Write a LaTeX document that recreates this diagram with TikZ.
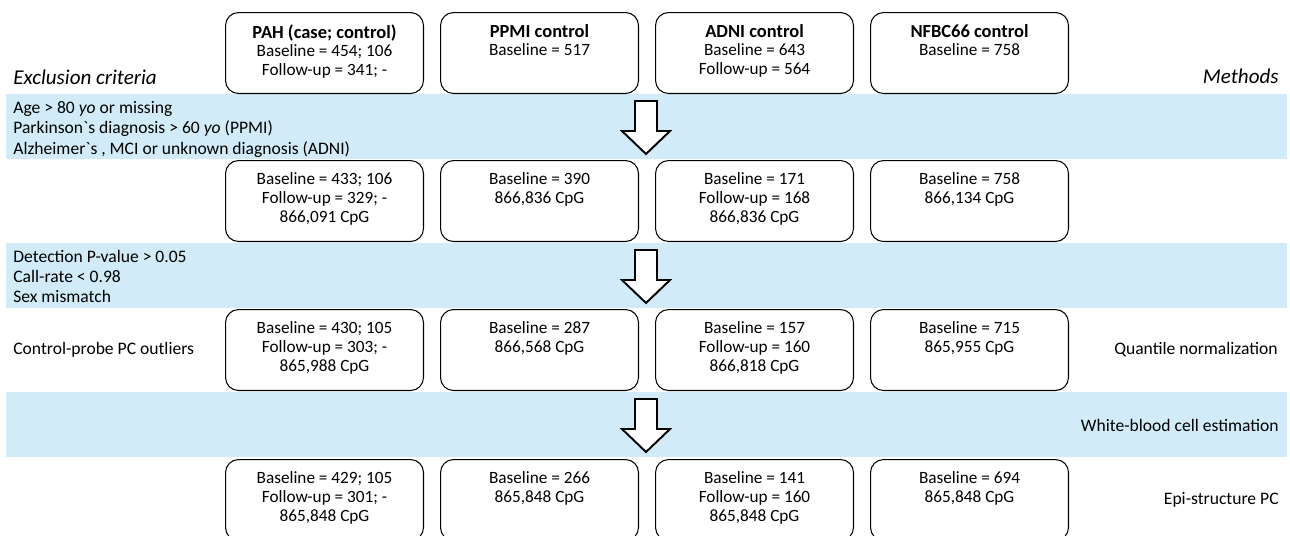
\documentclass[tikz,border=0pt]{standalone}
\usepackage{fontspec}
\setmainfont{Carlito}
\newfontfamily\rawfont{Carlito}[Ligatures=TeXOff]
\usepackage{tikz}
\usetikzlibrary{positioning}
\definecolor{bandblue}{RGB}{209,236,248}

\tikzset{
  cohort/.style={draw, rounded corners=0.26cm, line width=0.6pt, minimum width=3.96cm, minimum height=1.62cm, anchor=north west, inner sep=0pt},
  cohorttxt/.style={align=center, inner sep=0pt, anchor=north, font=\fontsize{9.8}{10.6}\selectfont},
  band/.style={fill=bandblue, minimum width=25.62cm, minimum height=1.3cm, anchor=north west, inner sep=0pt},
  crit/.style={align=left, inner sep=0pt, anchor=north west, font=\fontsize{10}{11.6}\selectfont},
  method/.style={inner sep=0pt, font=\fontsize{10}{11.6}\selectfont},
  heading/.style={inner sep=0pt, font=\fontsize{12}{14}\selectfont\itshape},
  flow/.style={draw, line width=1.1pt, fill=white, line join=miter},
}
\newcommand{\ttl}[1]{{\bfseries\fontsize{10.5}{10.6}\selectfont #1}}
\newcommand{\bq}{{\rawfont\symbol{96}}}

\begin{document}
\begin{tikzpicture}[x=0.02cm,y=-0.02cm]
\useasboundingbox (0,0) rectangle (1290,535);

% bands
\node[band] (band1) at (6,94) {};
\node[band] (band2) at (6,243) {};
\node[band] (band3) at (6,392) {};

% headings
\node[heading, anchor=west] (excl) at (13,77) {Exclusion criteria};
\node[heading, anchor=east] (meth) at (1279,76) {Methods};

% row 1
\node[cohort] (pah1) at (225,12) {};
\node[cohorttxt, below=0.24cm of pah1.north] (pah1txt) {\ttl{PAH (case; control)}\\Baseline = 454; 106\\Follow-up = 341; -};
\node[cohort] (ppmi1) at (440,12) {};
\node[cohorttxt, below=0.24cm of ppmi1.north] (ppmi1txt) {\ttl{PPMI control}\\Baseline = 517};
\node[cohort] (adni1) at (655,12) {};
\node[cohorttxt, below=0.24cm of adni1.north] (adni1txt) {\ttl{ADNI control}\\Baseline = 643\\Follow-up = 564};
\node[cohort] (nfbc1) at (870,12) {};
\node[cohorttxt, below=0.24cm of nfbc1.north] (nfbc1txt) {\ttl{NFBC66 control}\\Baseline = 758};

% filter 1
\node[crit, below right=0.14cm and 0.14cm of band1.north west] (crit1) {Age > 80 \textit{yo} or missing\\Parkinson\bq s diagnosis > 60 \textit{yo} (PPMI)\\Alzheimer\bq s , MCI or unknown diagnosis (ADNI)};
\draw[flow] (635,101) -- (657,101) -- (657,131) -- (670,131) -- (646,154) -- (622,131) -- (635,131) -- cycle;

% row 2
\node[cohort] (pah2) at (225,160) {};
\node[cohorttxt, below=0.25cm of pah2.north] (pah2txt) {Baseline = 433; 106\\Follow-up = 329; -\\866,091 CpG};
\node[cohort] (ppmi2) at (440,160) {};
\node[cohorttxt, below=0.25cm of ppmi2.north] (ppmi2txt) {Baseline = 390\\866,836 CpG};
\node[cohort] (adni2) at (655,160) {};
\node[cohorttxt, below=0.25cm of adni2.north] (adni2txt) {Baseline = 171\\Follow-up = 168\\866,836 CpG};
\node[cohort] (nfbc2) at (870,160) {};
\node[cohorttxt, below=0.25cm of nfbc2.north] (nfbc2txt) {Baseline = 758\\866,134 CpG};

% filter 2
\node[crit, below right=0.13cm and 0.14cm of band2.north west] (crit2) {Detection P-value > 0.05\\Call-rate < 0.98\\Sex mismatch};
\draw[flow] (635,250) -- (657,250) -- (657,280) -- (670,280) -- (646,303) -- (622,280) -- (635,280) -- cycle;

% row 3
\node[cohort] (pah3) at (225,309) {};
\node[cohorttxt, below=0.25cm of pah3.north] (pah3txt) {Baseline = 430; 105\\Follow-up = 303; -\\865,988 CpG};
\node[cohort] (ppmi3) at (440,309) {};
\node[cohorttxt, below=0.25cm of ppmi3.north] (ppmi3txt) {Baseline = 287\\866,568 CpG};
\node[cohort] (adni3) at (655,309) {};
\node[cohorttxt, below=0.25cm of adni3.north] (adni3txt) {Baseline = 157\\Follow-up = 160\\866,818 CpG};
\node[cohort] (nfbc3) at (870,309) {};
\node[cohorttxt, below=0.25cm of nfbc3.north] (nfbc3txt) {Baseline = 715\\865,955 CpG};
\node[method, anchor=west] (outl) at (13,349.5) {Control-probe PC outliers};
\node[method, anchor=east] (qnorm) at (1278,349.5) {Quantile normalization};

% filter 3
\node[method, anchor=east] (wbc) at (1279,425) {White-blood cell estimation};
\draw[flow] (635,399) -- (657,399) -- (657,429) -- (670,429) -- (646,452) -- (622,429) -- (635,429) -- cycle;

% row 4
\node[cohort] (pah4) at (225,459) {};
\node[cohorttxt, below=0.25cm of pah4.north] (pah4txt) {Baseline = 429; 105\\Follow-up = 301; -\\865,848 CpG};
\node[cohort] (ppmi4) at (440,459) {};
\node[cohorttxt, below=0.25cm of ppmi4.north] (ppmi4txt) {Baseline = 266\\865,848 CpG};
\node[cohort] (adni4) at (655,459) {};
\node[cohorttxt, below=0.25cm of adni4.north] (adni4txt) {Baseline = 141\\Follow-up = 160\\865,848 CpG};
\node[cohort] (nfbc4) at (870,459) {};
\node[cohorttxt, below=0.25cm of nfbc4.north] (nfbc4txt) {Baseline = 694\\865,848 CpG};
\node[method, anchor=east] (epi) at (1279,499.5) {Epi-structure PC};
\end{tikzpicture}
\end{document}
